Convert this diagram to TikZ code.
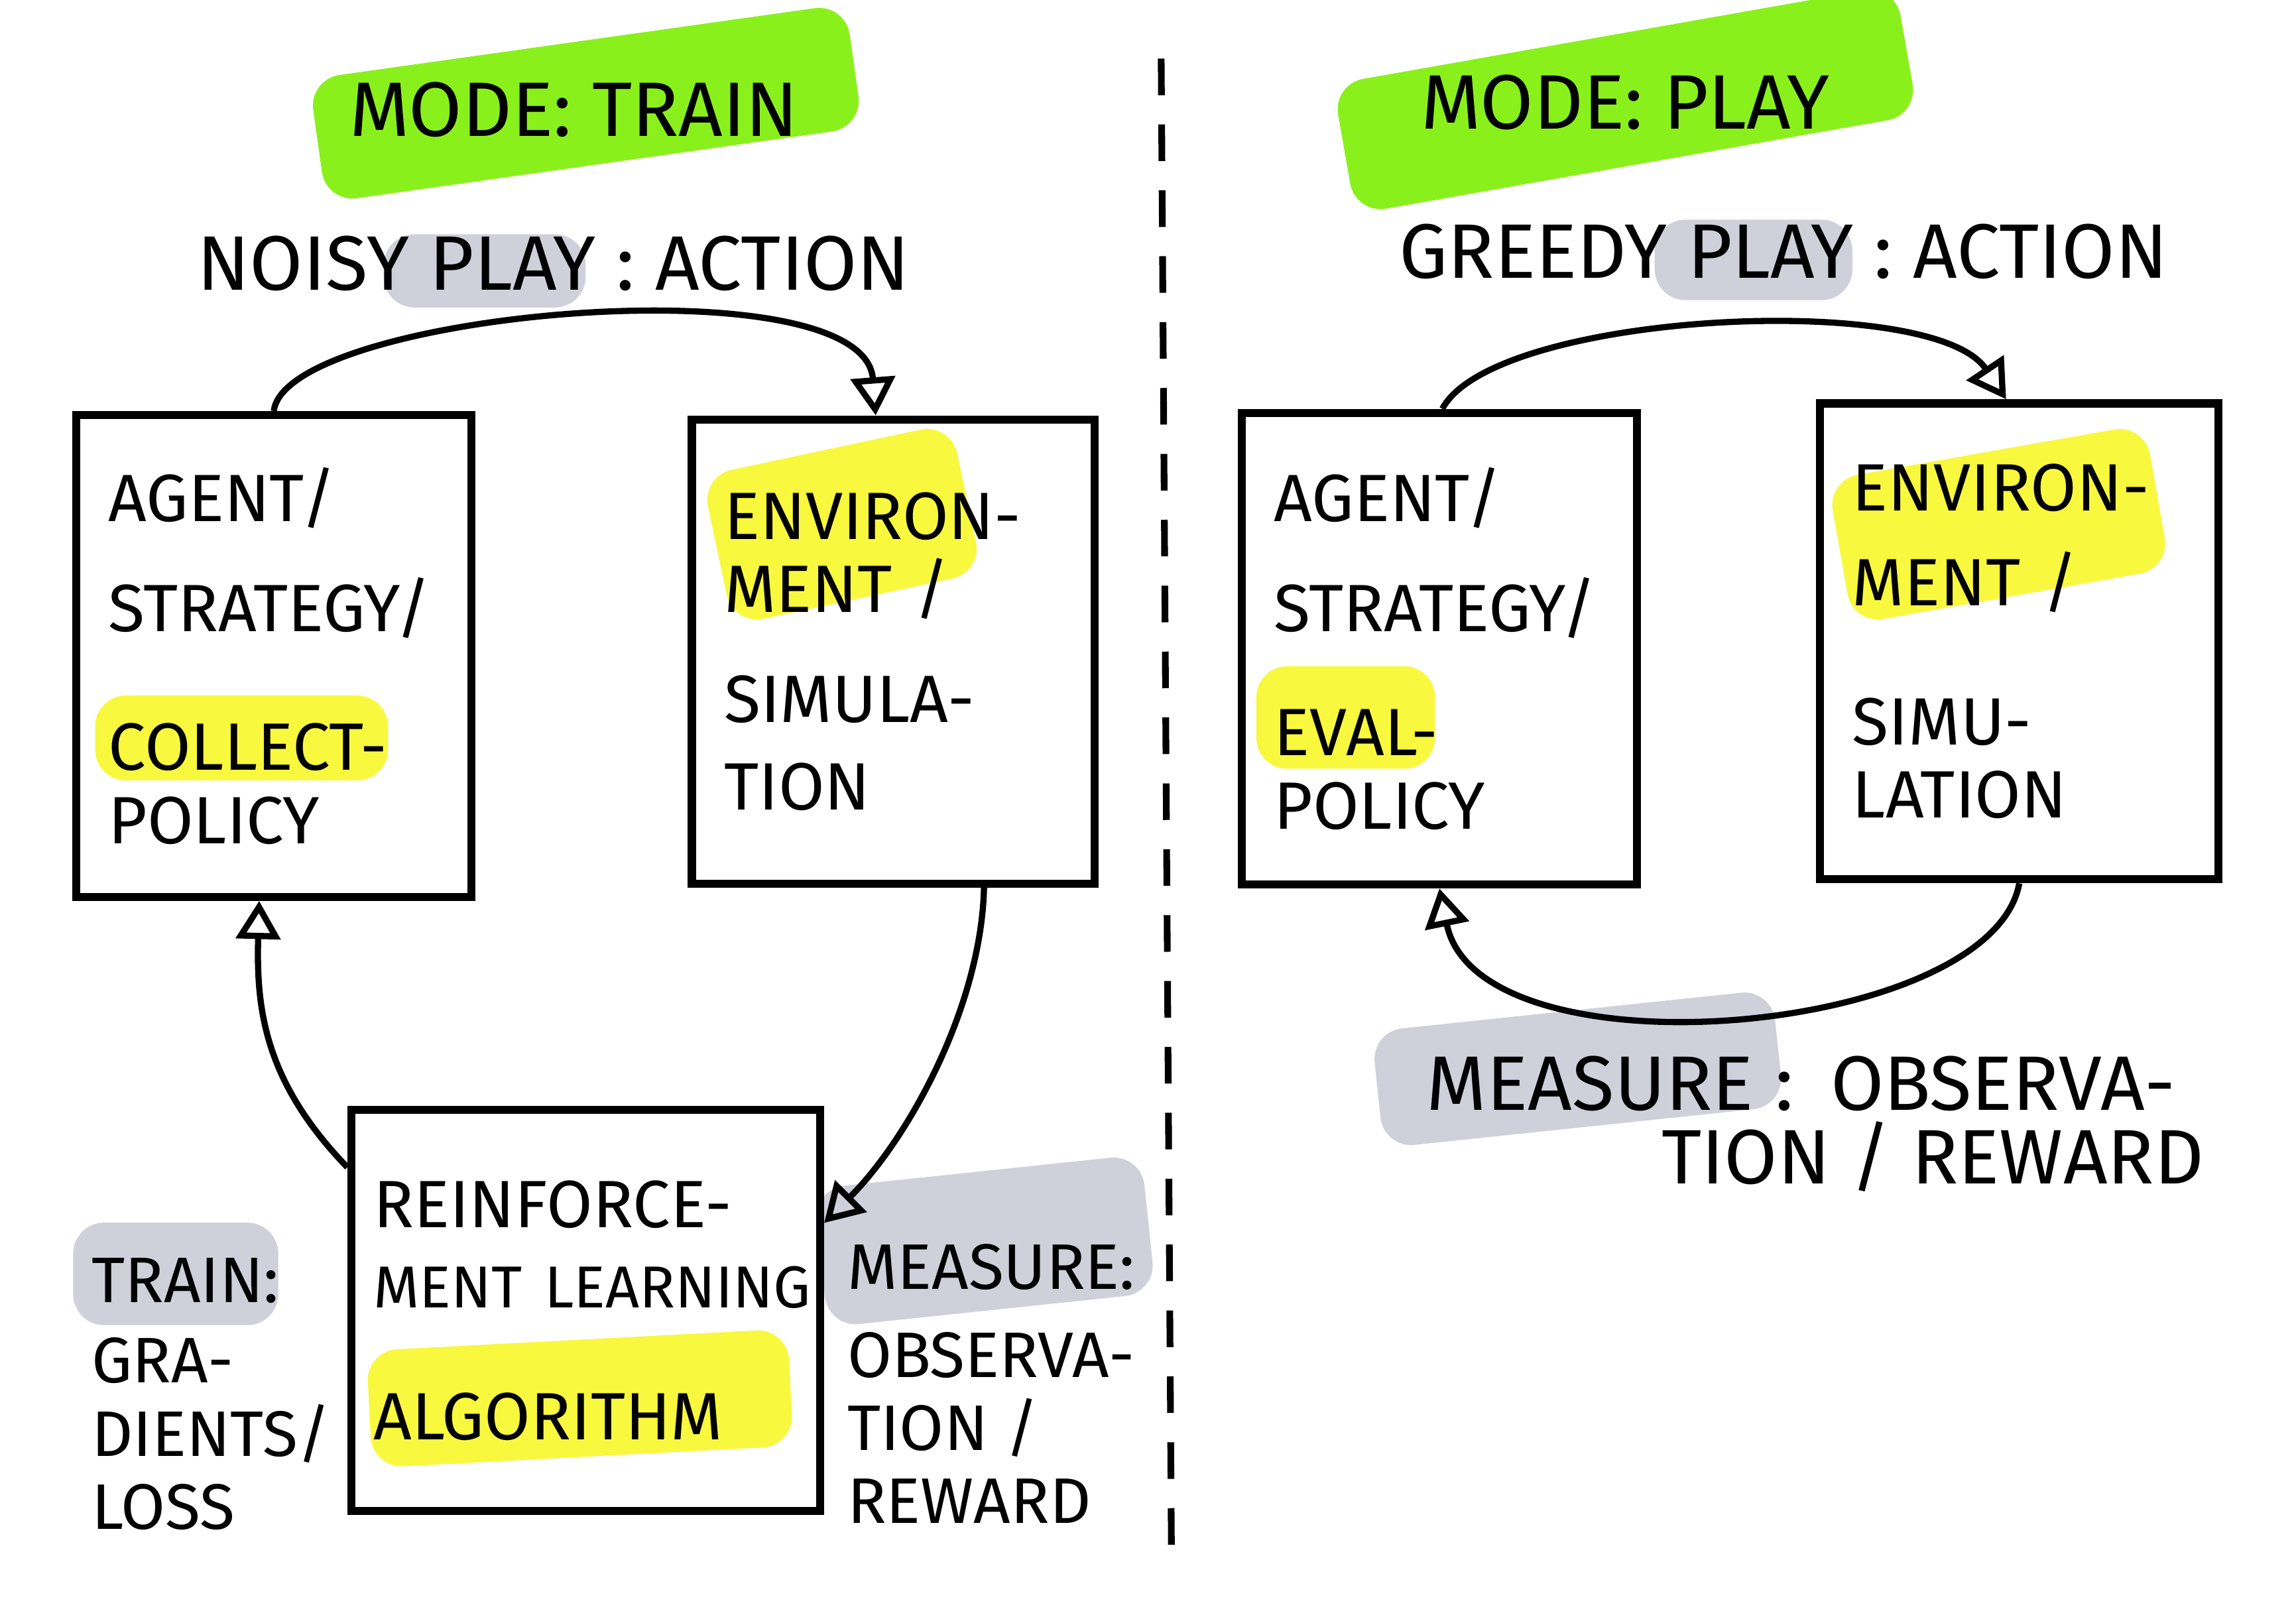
\documentclass[tikz,border=0pt]{standalone}
\usepackage{fontspec}
\setmainfont{Fira Sans}
\usetikzlibrary{arrows.meta}

\definecolor{markgreen}{RGB}{138,240,28}
\definecolor{markyellow}{RGB}{248,248,62}
\definecolor{markgray}{RGB}{208,208,218}

\newcommand{\boxfont}{\fontsize{13}{14.2}\selectfont}
\newcommand{\sidefont}{\fontsize{12.5}{14.2}\selectfont}
\newcommand{\titlefont}{\fontsize{15}{17}\selectfont}

\tikzset{
  box/.style={draw, line width=1.6pt, align=left, inner xsep=0.22cm, font=\boxfont},
  lbl/.style={align=left, inner sep=0pt, font=\sidefont},
  title/.style={inner sep=0pt, font=\titlefont},
  flow/.style={line width=1.2pt, -{Triangle[open, length=2.6mm, width=3mm]}},
  marker/.style={rounded corners=6pt}
}

\begin{document}
\begin{tikzpicture}
    \useasboundingbox (0,0) rectangle (15.68,11.08);

    % Surlignages (sous le texte)
    \fill[markgreen, marker, rotate around={8:(4.0,10.38)}] (2.15,9.95) rectangle (5.85,10.8);
    \fill[markgreen, marker, rotate around={10:(11.1,10.4)}] (9.15,9.95) rectangle (13.05,10.85);
    \fill[markgray, marker] (2.62,8.98) rectangle (4.0,9.48);
    \fill[markgray, marker] (11.3,9.03) rectangle (12.65,9.58);
    \fill[markyellow, marker] (0.65,5.75) rectangle (2.65,6.33);
    \fill[markyellow, marker, rotate around={12:(5.75,7.5)}] (4.88,6.98) rectangle (6.62,8.02);
    \fill[markyellow, marker] (8.58,5.83) rectangle (9.8,6.53);
    \fill[markyellow, marker, rotate around={10:(13.65,7.5)}] (12.55,7.0) rectangle (14.75,8.0);
    \fill[markyellow, marker, rotate around={3:(3.96,1.53)}] (2.52,1.13) rectangle (5.4,1.93);
    \fill[markgray, marker] (0.5,2.03) rectangle (1.9,2.73);
    \fill[markgray, marker, rotate around={6:(6.72,2.6)}] (5.6,2.13) rectangle (7.85,3.08);
    \fill[markgray, marker, rotate around={6:(10.77,3.78)}] (9.4,3.38) rectangle (12.15,4.18);

    % Séparation des deux modes
    \draw[line width=1.3pt, dash pattern=on 0.25cm off 0.2cm] (7.93,10.68) -- (8.0,0.48);

    % Mode train
    \node[title] (modeL) at (3.92,10.33) {MODE: TRAIN};
    \node[title] (actL) at (3.78,9.28) {NOISY PLAY : ACTION};
    \node[box, text width=2.26cm, minimum height=3.29cm] (agentL) at (1.87,6.60)
        {AGENT/\\[0.25cm] STRATEGY/\\[0.45cm] COLLECT-\\ POLICY};
    \node[box, text width=2.31cm, minimum height=3.17cm] (envL) at (6.10,6.63)
        {ENVIRON-\\ MENT /\\[0.25cm] SIMULA-\\[0.1cm] TION};
    \node[box, inner xsep=0.15cm, text width=2.9cm, minimum height=2.74cm] (rl) at (4.0,2.13)
        {REINFORCE-\\[0.05cm] {\fontsize{11.5}{14.2}\selectfont\mbox{MENT LEARNING}}\\[0.4cm] ALGORITHM};
    \node[lbl, anchor=west] (trainL) at (0.62,1.56) {TRAIN:\\[0.05cm] GRA-\\ DIENTS/\\ LOSS};
    \node[lbl, anchor=west] (measL) at (5.78,1.63) {MEASURE:\\[0.1cm] OBSERVA-\\ TION /\\ REWARD};

    \draw[flow] (agentL.north) .. controls (1.95,8.95) and (5.9,9.3) .. ([xshift=-0.12cm]envL.north);
    \draw[flow] ([xshift=0.62cm]envL.south) .. controls (6.7,4.2) and (6.2,3.3) .. ([yshift=-0.8cm]rl.north east);
    \draw[flow] ([yshift=-0.42cm]rl.north west) .. controls (1.8,3.7) and (1.75,4.2) .. ([xshift=-0.1cm]agentL.south);

    % Mode play
    \node[title] (modeR) at (11.10,10.38) {MODE: PLAY};
    \node[title] (actR) at (12.18,9.36) {GREEDY PLAY : ACTION};
    \node[box, text width=2.26cm, minimum height=3.22cm] (agentR) at (9.83,6.65)
        {AGENT/\\[0.25cm] STRATEGY/\\[0.35cm] EVAL-\\ POLICY};
    \node[box, text width=2.28cm, minimum height=3.25cm] (envR) at (13.79,6.70)
        {ENVIRON-\\[0.15cm] MENT /\\[0.45cm] SIMU-\\ LATION};
    \node[title] (measRa) at (12.3,3.68) {MEASURE\hspace{0.15cm}:\hspace{0.25cm}OBSERVA-};
    \node[title] (measRb) at (13.2,3.18) {TION / REWARD};

    \draw[flow] ([xshift=0.02cm]agentR.north) .. controls (10.2,8.95) and (13.2,9.1) .. ([xshift=-0.09cm]envR.north);
    \draw[flow] (envR.south) .. controls (13.6,4.0) and (10.1,3.7) .. (agentR.south);
\end{tikzpicture}
\end{document}
